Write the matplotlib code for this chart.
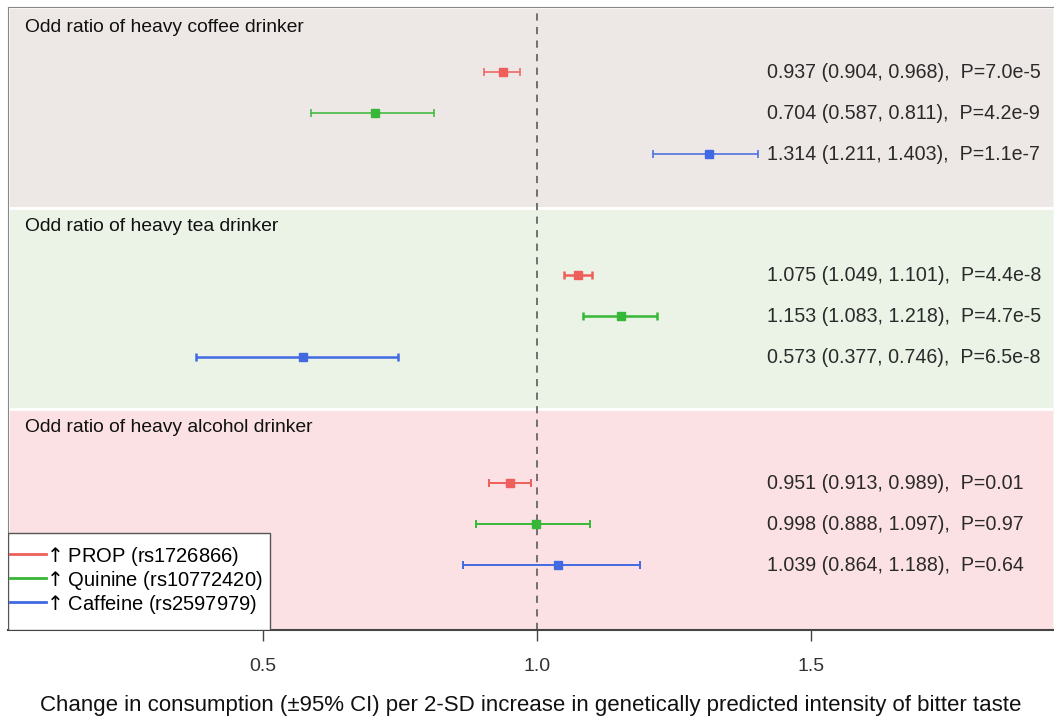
import matplotlib.pyplot as plt
from matplotlib.lines import Line2D
from matplotlib.patches import Rectangle

# Mendelian randomisation estimates: odds ratio and 95% CI per bitter-taste SNP
outcomes = ["Odd ratio of heavy coffee drinker",
            "Odd ratio of heavy tea drinker",
            "Odd ratio of heavy alcohol drinker"]
snps = ["PROP (rs1726866)", "Quinine (rs10772420)", "Caffeine (rs2597979)"]

coffee_or = [0.937, 0.704, 1.314]
coffee_lo = [0.904, 0.587, 1.211]
coffee_hi = [0.968, 0.811, 1.403]
coffee_p = ["7.0e-5", "4.2e-9", "1.1e-7"]

tea_or = [1.075, 1.153, 0.573]
tea_lo = [1.049, 1.083, 0.377]
tea_hi = [1.101, 1.218, 0.746]
tea_p = ["4.4e-8", "4.7e-5", "6.5e-8"]

alcohol_or = [0.951, 0.998, 1.039]
alcohol_lo = [0.913, 0.888, 0.864]
alcohol_hi = [0.989, 1.097, 1.188]
alcohol_p = ["0.01", "0.97", "0.64"]

snp_colors = ["#EE5F5B", "#37B737", "#4169E1"]
band_colors = ["#EDE8E5", "#EAF3E6", "#FCE1E4"]

groups = [
    (coffee_or, coffee_lo, coffee_hi, coffee_p),
    (tea_or, tea_lo, tea_hi, tea_p),
    (alcohol_or, alcohol_lo, alcohol_hi, alcohol_p),
]

# vertical layout in row units (y grows downward)
band_edges = [0.0, 4.9, 9.8, 15.2]
first_row_offset = [1.59, 1.64, 1.82]
header_offset = [0.5, 0.45, 0.45]
bar_width = [1.1, 1.8, 1.4]

plt.rcParams["font.family"] = ["Liberation Sans", "DejaVu Sans"]

fig = plt.figure(figsize=(10.54, 7.19), dpi=100)
ax = fig.add_axes([0.0076, 0.124, 0.9924, 0.866])

xmin, xmax = 0.0347, 1.943
ax.set_xlim(xmin, xmax)
ax.set_ylim(band_edges[-1], band_edges[0])

for b in range(3):
    top, bottom = band_edges[b], band_edges[b + 1]
    ax.add_patch(Rectangle((xmin, top), xmax - xmin, bottom - top,
                           facecolor=band_colors[b], edgecolor="white",
                           linewidth=2, zorder=0))
    ax.text(0.065, top + header_offset[b], outcomes[b], fontsize=13.9,
            ha="left", va="center", color="#111111")

    ors, los, his, ps = groups[b]
    for i in range(3):
        y = top + first_row_offset[b] + i
        ax.errorbar(ors[i], y, xerr=[[ors[i] - los[i]], [his[i] - ors[i]]],
                    fmt="s", color=snp_colors[i], markersize=6,
                    elinewidth=bar_width[b], capsize=3.2,
                    capthick=bar_width[b], zorder=3)
        label = f"{ors[i]:.3f} ({los[i]:.3f}, {his[i]:.3f}),  P={ps[i]}"
        ax.text(1.42, y, label, fontsize=14.1, ha="left", va="center",
                color="#2a2a2a")

ax.axvline(1.0, color="#666666", linestyle=(0, (4, 3.5)), linewidth=1.3, zorder=1)

ax.set_yticks([])
ax.set_xticks([0.5, 1.0, 1.5])
ax.set_xticklabels(["0.5", "1.0", "1.5"], fontsize=14, color="#333333")
ax.tick_params(axis="x", length=8, width=1, pad=12, color="#444444")
for side in ["left", "top", "right"]:
    ax.spines[side].set_color("#888888")
ax.spines["bottom"].set_color("#444444")
ax.spines["bottom"].set_linewidth(1.5)

ax.set_xlabel("Change in consumption (\u00b195% CI) per 2-SD increase in "
              "genetically predicted intensity of bitter taste",
              fontsize=16.0, labelpad=15, color="#111111")

# legend box drawn separately so its padding can differ per side
ax.add_patch(Rectangle((0.0, 0.0), 0.2505, 0.156, transform=ax.transAxes,
                       facecolor="white", edgecolor="#555555",
                       linewidth=1.0, zorder=4))
handles = [Line2D([0], [0], color=c, linewidth=2) for c in snp_colors]
labels = [r"$\uparrow$" + s for s in snps]
leg = ax.legend(handles, labels, loc="center left",
                bbox_to_anchor=(0.002, 0.08),
                fontsize=14.5, handlelength=1.8, handletextpad=-0.15,
                labelspacing=0.05, borderpad=0.0, borderaxespad=0,
                frameon=False)
leg.set_zorder(5)

fig.savefig("out.png", dpi=100)
